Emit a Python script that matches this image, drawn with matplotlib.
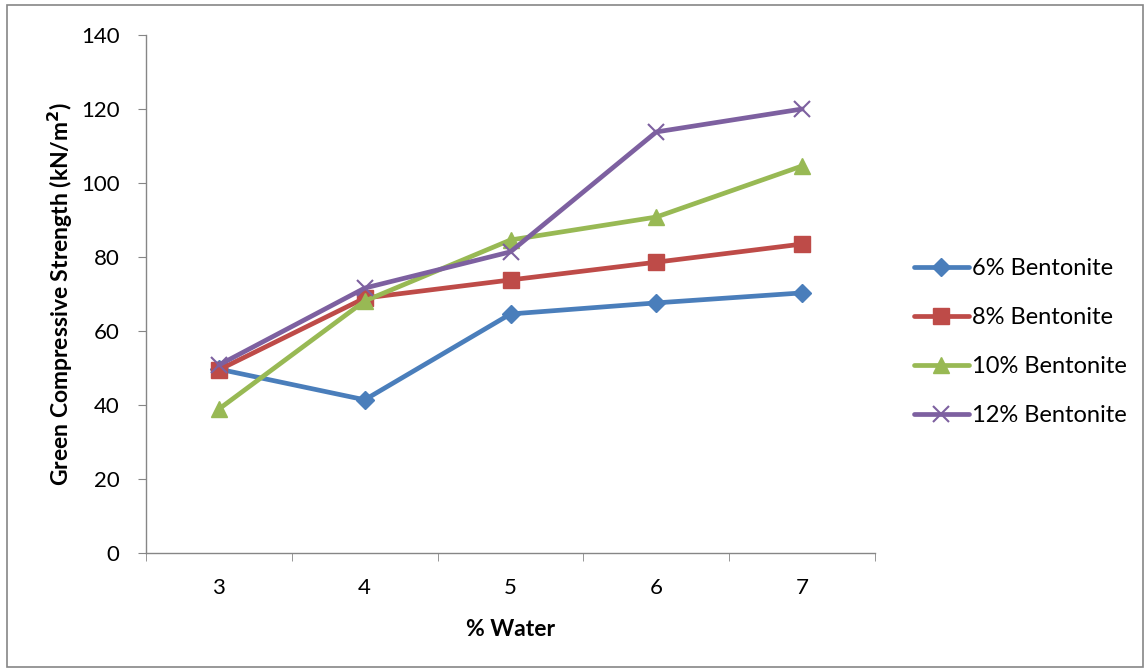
import matplotlib
matplotlib.use("Agg")
import matplotlib.pyplot as plt
from matplotlib.patches import Rectangle

water = [3, 4, 5, 6, 7]
series_names = ["6% Bentonite", "8% Bentonite", "10% Bentonite", "12% Bentonite"]
b6 = [49.7, 41.4, 64.6, 67.6, 70.3]
b8 = [49.5, 68.9, 73.8, 78.6, 83.5]
b10 = [38.9, 68.1, 84.6, 90.8, 104.6]
b12 = [50.8, 71.6, 81.4, 113.8, 120.0]
values = [b6, b8, b10, b12]
colors = ["#4A7EBB", "#BE4B48", "#98B954", "#7D60A0"]
markers = ["D", "s", "^", "x"]
msizes = [9.5, 11, 12, 11]

plt.rcParams['font.family'] = ['Lato', 'DejaVu Sans']

fig = plt.figure(figsize=(11.45, 6.72), dpi=100)
ax = fig.add_axes([146/1145, 1-553/672, (875-146)/1145, (553-35)/672])

xpos = list(range(len(water)))
for vals, c, m, ms, name in zip(values, colors, markers, msizes, series_names):
    if m == "x":
        ax.plot(xpos, vals, color=c, lw=3.4, marker=m, ms=ms, mew=1.5, label=name,
                solid_capstyle='round')
    else:
        ax.plot(xpos, vals, color=c, lw=3.4, marker=m, ms=ms, mec=c, mfc=c, label=name,
                solid_capstyle='round')

ax.set_xlim(-0.5, len(water) - 0.5)
ax.set_ylim(0, 140)
ax.set_yticks(range(0, 141, 20))
ax.set_xticks(xpos)
ax.set_xticklabels([str(w) for w in water])
ax.set_xticks([i - 0.5 for i in range(len(water) + 1)], minor=True)
ax.tick_params(axis='x', which='major', length=0, pad=18, labelsize=16)
ax.tick_params(axis='x', which='minor', length=6, color='#868686', direction='out')
ax.tick_params(axis='y', length=6, color='#868686', direction='out', labelsize=16, pad=13)
for s in ['top', 'right']:
    ax.spines[s].set_visible(False)
for s in ['left', 'bottom']:
    ax.spines[s].set_color('#868686')
    ax.spines[s].set_linewidth(1)

ax.set_xlabel("% Water", fontsize=16.5, fontweight='bold', labelpad=15)
ax.set_ylabel("Green Compressive Strength (kN/m$^\\mathbf{2}$)", fontsize=16.5, fontweight='bold', labelpad=4)

leg = fig.legend(loc='center left', bbox_to_anchor=(893/1145, 1-342/672), frameon=False,
                 fontsize=17, handlelength=2.3, handletextpad=0.15, labelspacing=1.19)

fig.patches.append(Rectangle((7/1145, 5/672), 1136/1145, 662/672, transform=fig.transFigure,
                             fill=False, edgecolor='#868686', lw=1.2))

fig.savefig("out.png", dpi=100)
